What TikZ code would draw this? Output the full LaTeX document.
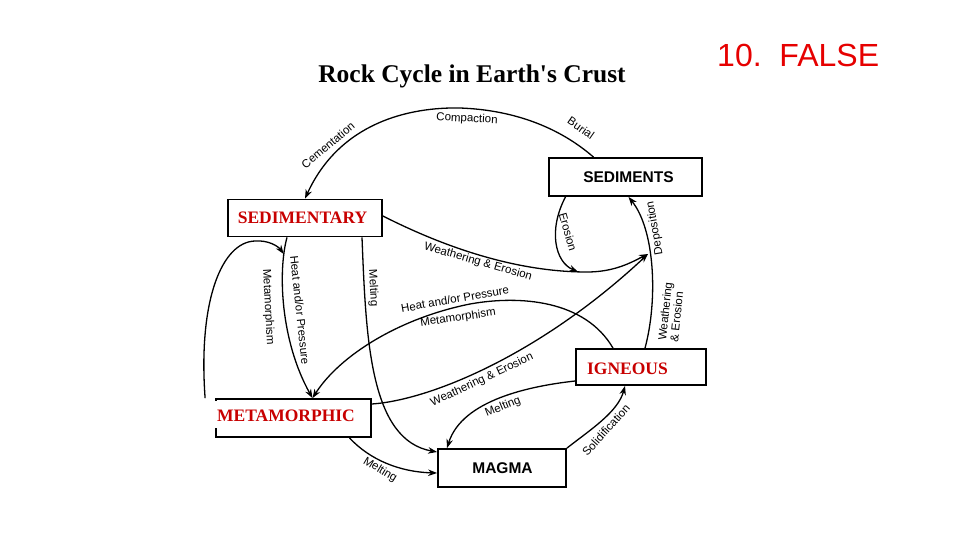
\documentclass[tikz,border=0pt]{standalone}
\usepackage{fontspec}
\setmainfont{Liberation Serif}
\setsansfont{Liberation Sans}
\usetikzlibrary{arrows.meta}
\definecolor{boxred}{RGB}{200,0,0}
\definecolor{falsered}{RGB}{230,0,0}
\begin{document}
\begin{tikzpicture}[x=1pt,y=-1pt,
  lbl/.style={font=\fontsize{11.5}{12}\selectfont\sffamily, inner sep=0pt},
  conn/.style={line width=1.3pt, -{Stealth[length=9pt,width=6.5pt]}},
  rockbox/.style={draw, line width=1.8pt, inner sep=0pt},
  redname/.style={font=\fontsize{17.5}{18}\selectfont\rmfamily\bfseries, text=boxred, inner sep=0pt},
  blackname/.style={font=\fontsize{15.5}{16}\selectfont\sffamily\bfseries, inner sep=0pt}]
\useasboundingbox[fill=white] (0,0) rectangle (960,540);

% title and answer
\node[font=\fontsize{25.5}{26}\selectfont\rmfamily\bfseries, anchor=base, inner sep=0pt] (title) at (472,83) {Rock Cycle in Earth\textquotesingle s Crust};
\node[font=\fontsize{32}{33}\selectfont\sffamily, text=falsered, anchor=base west, inner sep=0pt] (answer) at (717,67) {10.~~FALSE};

% boxes
\node[rockbox, minimum width=154pt, minimum height=37pt] (sedbox) at (305,218) {};
\node[rockbox, minimum width=153pt, minimum height=38pt] (sedimentsbox) at (625.5,177) {};
\node[rockbox, minimum width=155pt, minimum height=38pt] (metabox) at (293.5,418) {};
\node[rockbox, minimum width=130pt, minimum height=36pt] (ignbox) at (641,367) {};
\node[rockbox, minimum width=128pt, minimum height=38pt] (magmabox) at (502,468) {};
\fill[white] (212,401) rectangle (219,428);

\node[redname] (sedtext) at (302.5,218) {SEDIMENTARY};
\node[redname] (metatext) at (286,416) {METAMORPHIC};
\node[redname] (igntext) at (627.5,368.5) {IGNEOUS};
\node[blackname] (sedimentstext) at (628.5,177.5) {SEDIMENTS};
\node[blackname] (magmatext) at (502.5,468) {MAGMA};

% junction points on connectors
\coordinate (J) at (648,254);
\coordinate (K) at (283.7,254);
\coordinate (E) at (578,271.8);

% Sediments -> Sedimentary (burial, compaction, cementation)
\draw[conn] ([xshift=-32pt]sedimentsbox.north) .. controls (560,128) and (515,110) .. (460,108)
  .. controls (410,107) and (340,122) .. (sedbox.north);
% Sedimentary -> weathering & erosion -> deposition
\draw[conn] ([yshift=2pt]sedbox.east) .. controls (450,250) and (520,272) .. (587,272)
  .. controls (615,272) and (632,262) .. (J);
% Metamorphic -> weathering & erosion -> deposition
\draw[conn] ([yshift=14pt]metabox.east) .. controls (430,400) and (540,355) .. (J);
% Igneous -> weathering & erosion / deposition -> Sediments
\draw[conn] ([xshift=4pt]ignbox.north) .. controls (658,300) and (655,230) .. ([xshift=3pt]sedimentsbox.south);
% Sediments -> erosion
\draw[conn] ([xshift=-60pt]sedimentsbox.south) .. controls (548,230) and (555,262) .. (E);
% Sedimentary -> Metamorphic (heat and/or pressure)
\draw[conn] ([xshift=-18pt]sedbox.south) .. controls (278,270) and (280,340) .. ([xshift=19pt]metabox.north);
% Metamorphic -> metamorphism loop
\draw[conn] ([xshift=-10pt]metabox.north west) .. controls (198,300) and (222,242) .. (255,241)
  .. controls (268,240) and (278,246) .. (K);
% Igneous -> Metamorphic (heat and/or pressure, metamorphism)
\draw[conn] ([xshift=-28pt]ignbox.north) .. controls (585,300) and (520,295) .. (470,304)
  .. controls (400,318) and (340,355) .. ([xshift=19pt]metabox.north);
% Sedimentary -> Magma (melting)
\draw[conn] ([xshift=57pt]sedbox.south) .. controls (366,340) and (370,440) .. ([yshift=16pt]magmabox.west);
% Metamorphic -> Magma (melting)
\draw[conn] ([xshift=56pt]metabox.south) .. controls (370,460) and (400,472) .. ([yshift=-5pt]magmabox.west);
% Igneous -> Magma (melting)
\draw[conn] ([yshift=-14pt]ignbox.west) .. controls (530,386) and (462,400) .. ([xshift=-55pt]magmabox.north);
% Magma -> Igneous (solidification)
\draw[conn] (magmabox.north east) .. controls (590,430) and (618,412) .. ([xshift=-16pt]ignbox.south);

% connector labels
\node[lbl, rotate=40] (l1) at (328,145) {Cementation};
\node[lbl, rotate=-3] (l2) at (467,119) {Compaction};
\node[lbl, rotate=-35] (l3) at (581,128) {Burial};
\node[lbl, rotate=-16] (l4) at (478,262) {Weathering \& Erosion};
\node[lbl, rotate=10] (l5) at (455,299) {Heat and/or Pressure};
\node[lbl, rotate=8] (l6) at (458,318) {Metamorphism};
\node[lbl, rotate=25] (l7) at (482,380) {Weathering \& Erosion};
\node[lbl, rotate=22] (l8) at (503,407) {Melting};
\node[lbl, rotate=48] (l9) at (606,430) {Solidification};
\node[lbl, rotate=-31] (l10) at (380,470) {Melting};
\node[lbl, rotate=-87] (l11) at (373,288) {Melting};
\node[lbl, rotate=-87] (l12) at (268,307) {Metamorphism};
\node[lbl, rotate=-84] (l13) at (300,310) {Heat and/or Pressure};
\node[lbl, rotate=-74] (l14) at (568,232) {Erosion};
\node[lbl, rotate=100] (l15) at (655,228) {Deposition};
\node[lbl, rotate=84, align=left] (l16) at (671,312) {Weathering\\\& Erosion};
\end{tikzpicture}
\end{document}
